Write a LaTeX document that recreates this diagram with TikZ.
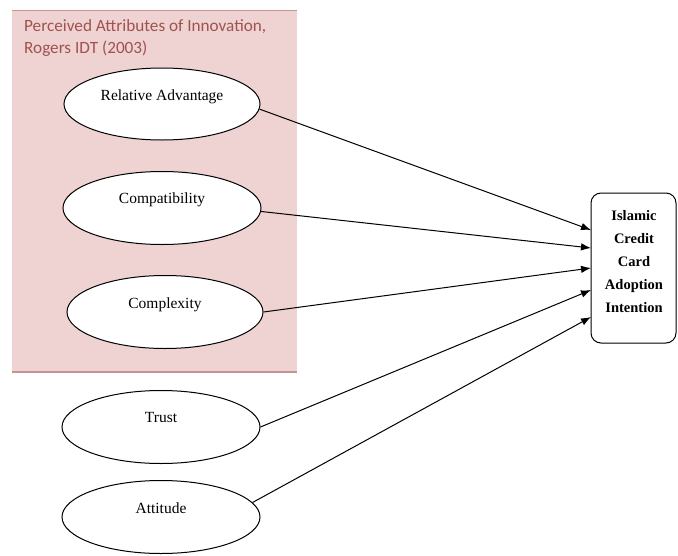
\documentclass[tikz,border=0pt]{standalone}
\usepackage{fontspec}
\setmainfont{Liberation Serif}
\newfontfamily\titlefont{Carlito}
\usetikzlibrary{shapes.geometric,arrows.meta}
\definecolor{pinkfill}{RGB}{239,211,211}
\definecolor{pinkline}{RGB}{196,146,144}
\definecolor{titlecol}{RGB}{160,82,78}
\tikzset{
  construct/.style={ellipse, draw=black, line width=1pt, fill=white, minimum width=198pt, minimum height=73pt, inner sep=0pt},
  ctext/.style={font=\fontsize{15.5}{17}\selectfont, inner sep=0pt},
  target/.style={draw=black, line width=1pt, rounded corners=10pt, fill=white, minimum width=85pt, minimum height=150pt, inner sep=0pt},
  arr/.style={draw=black, line width=1pt, -{Latex[length=10pt,width=7.5pt]}},
}
\begin{document}
\begin{tikzpicture}[x=1pt,y=-1pt]
\useasboundingbox (0,0) rectangle (678,555);
% shaded group
\fill[pinkfill] (12,10) rectangle (297,372);
\draw[pinkline, line width=1pt] (12,10) -- (297,10);
\draw[pinkline, line width=2pt] (12,372) -- (297,372);
\node[anchor=base west, inner sep=0pt, text=titlecol, font=\titlefont\fontsize{17.2}{22}\selectfont] (title1) at (24,31) {Perceived Attributes of Innovation,};
\node[anchor=base west, inner sep=0pt, text=titlecol, font=\titlefont\fontsize{17.2}{22}\selectfont] (title2) at (24,53) {Rogers IDT (2003)};
% constructs
\node[construct, minimum width=196pt, minimum height=72pt] (ra) at (162,104) {};
\node[ctext] (ratext) at (162,97) {Relative Advantage};
\node[construct] (comp) at (162,208) {};
\node[ctext] (comptext) at (162,200) {Compatibility};
\node[construct, minimum width=196pt] (cplx) at (165,312) {};
\node[ctext] (cplxtext) at (165,305) {Complexity};
\node[construct] (trust) at (161,427) {};
\node[ctext] (trusttext) at (161,417) {Trust};
\node[construct] (att) at (161,517) {};
\node[ctext] (atttext) at (161,508) {Attitude};
% target
\node[target] (box) at (633.5,268) {};
\node[align=center, inner sep=0pt, font=\bfseries\fontsize{14.5}{23}\selectfont] (boxtext) at (634,262) {Islamic\\Credit\\Card\\Adoption\\Intention};
\coordinate (t1) at (591,230);
\coordinate (t2) at (591,248);
\coordinate (t3) at (591,268);
\coordinate (t4) at (591,290);
\coordinate (t5) at (591,317);
% connectors
\draw[arr] (ra.-3) -- (t1);
\draw[arr] (comp.-2) -- (t2);
\draw[arr] (cplx.east) -- (t3);
\draw[arr] (trust.east) -- (t4);
\draw[arr] (att.9.4) -- (t5);
\end{tikzpicture}
\end{document}
